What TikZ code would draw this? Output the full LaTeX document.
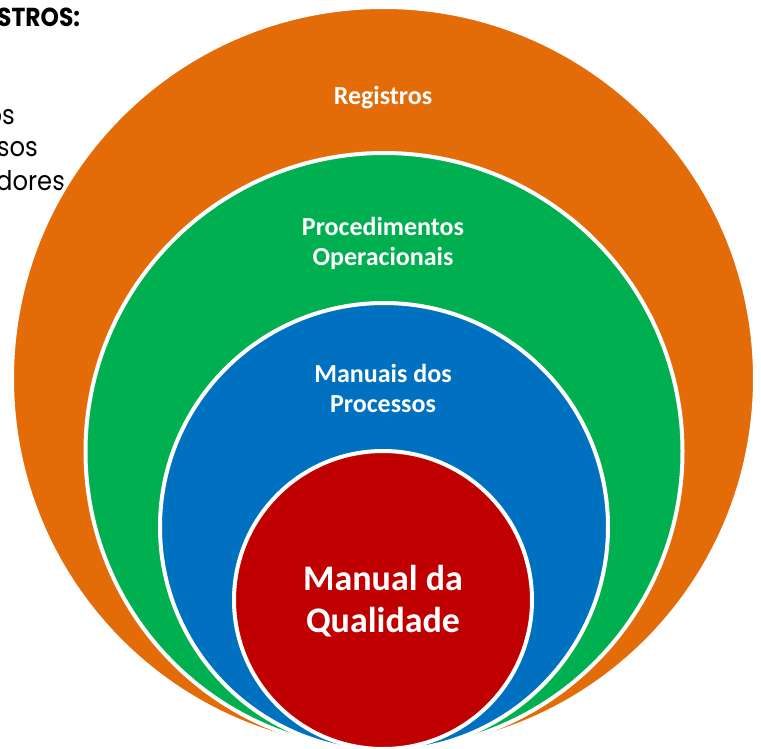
\documentclass[tikz,border=0pt]{standalone}
\usepackage[x11names]{xcolor}
\usepackage{fontspec}
\setmainfont{Carlito}
\newfontfamily\sidefont[FakeStretch=0.9]{Poppins}

\definecolor{regorange}{HTML}{E36C09}
\definecolor{procgreen}{HTML}{00B050}
\definecolor{manblue}{HTML}{0070C0}
\definecolor{qualred}{HTML}{C00000}

\tikzset{
  ring/.style={draw=white,line width=4pt},
  ringtext/.style 2 args={text=white,font=\bfseries\fontsize{#1}{#2}\selectfont,align=center},
  sidetext/.style={anchor=base east,inner sep=0pt,font=\sidefont\fontsize{27}{32}\selectfont}
}

\begin{document}
\begin{tikzpicture}[x=1pt,y=-1pt]
\useasboundingbox (0,0) rectangle (761,749);
% list text on the left, partly hidden behind the circles
\node[sidetext,anchor=base west,font=\sidefont\bfseries\fontsize{26}{30}\selectfont] (head) at (-3,27) {STROS:};
\node[sidetext] (line1) at (15,125) {os};
\node[sidetext] (line2) at (38,157) {sos};
\node[sidetext,anchor=base west] (line3) at (-4,190) {dores};
% nested circles, all touching at the bottom
\filldraw[ring,fill=regorange] (383.5,378.5) circle (371.5pt);
\filldraw[ring,fill=procgreen] (384,451.5) circle (298.5pt);
\filldraw[ring,fill=manblue]   (384,527) circle (224pt);
\filldraw[ring,fill=qualred]   (383,600) circle (149pt);
% labels
\node[ringtext={26}{30}] (reg)  at (383,98)  {Registros};
\node[ringtext={26}{30}] (proc) at (383,243) {Procedimentos\\Operacionais};
\node[ringtext={26}{30}] (man)  at (383,388) {Manuais dos\\Processos};
\node[ringtext={36}{42}] (mq)   at (383,601) {Manual da\\Qualidade};
\end{tikzpicture}
\end{document}
